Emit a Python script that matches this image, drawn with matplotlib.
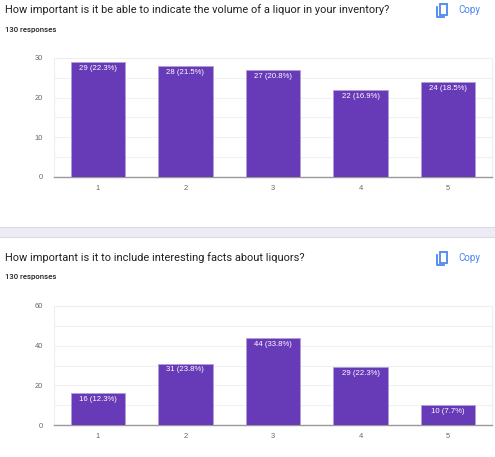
import matplotlib.pyplot as plt
from matplotlib.patches import Rectangle
from matplotlib.lines import Line2D

plt.rcParams['font.family'] = ['Roboto', 'DejaVu Sans']

# data
categories = ['1', '2', '3', '4', '5']
volume_counts = [29, 28, 27, 22, 24]
volume_pcts = [22.3, 21.5, 20.8, 16.9, 18.5]
facts_counts = [16, 31, 44, 29, 10]
facts_pcts = [12.3, 23.8, 33.8, 22.3, 7.7]
titles = ['How important is it be able to indicate the volume of a liquor in your inventory?',
          'How important is it to include interesting facts about liquors?']
responses = '130 responses'

W, H = 495, 457
fig = plt.figure(figsize=(W / 100, H / 100), dpi=100)
fig.patch.set_facecolor('white')


def fy(py):
    return 1 - py / H


def fx(px):
    return px / W


def draw_header(title, y_title, y_resp):
    fig.text(fx(5), fy(y_title), title, fontsize=7.9, color='#202124', va='center', ha='left')
    fig.text(fx(5), fy(y_resp), responses, fontsize=5.6, color='#202124', va='center', ha='left',
             fontweight='medium')
    # copy icon
    blue = '#4a86f0'
    top = y_title - 6
    fig.add_artist(Rectangle((fx(439.5), fy(top + 11)), fx(7), 11 / H, transform=fig.transFigure,
                             fill=False, ec=blue, lw=1.3))
    fig.add_artist(Line2D([fx(437), fx(437), fx(444)], [fy(top + 3), fy(top + 13), fy(top + 13)],
                          transform=fig.transFigure, color=blue, lw=1.3))
    fig.text(fx(458), fy(y_title), 'Copy', fontsize=7, color=blue, va='center', ha='left')


def draw_chart(rect, counts, pcts, ymax, major, minor):
    ax = fig.add_axes(rect)
    x = range(len(categories))
    bars = ax.bar(x, counts, width=0.62, color='#673ab7', edgecolor='#b39ddb', linewidth=0.6, zorder=3)
    for bar, c, p in zip(bars, counts, pcts):
        ax.annotate(f'{c} ({p}%)', xy=(bar.get_x() + bar.get_width() / 2, bar.get_height()),
                    xytext=(0, -2), textcoords='offset points', ha='center', va='top',
                    fontsize=5.6, color='white', family='Liberation Sans', zorder=4)
    ax.set_xlim(-0.5, len(categories) - 0.5)
    ax.set_ylim(0, ymax)
    ax.set_yticks(range(0, ymax + 1, major))
    ax.set_yticks(range(0, ymax + 1, minor), minor=True)
    ax.set_xticks(list(x))
    ax.set_xticklabels(categories)
    ax.grid(axis='y', which='both', color='#f0f0f0', lw=0.8, zorder=0)
    ax.tick_params(length=0, which='both', labelsize=5.4, colors='#666666', pad=8)
    ax.tick_params(axis='x', pad=6)
    for lbl in ax.get_xticklabels() + ax.get_yticklabels():
        lbl.set_family('Liberation Sans')
    for s in ['top', 'left', 'right']:
        ax.spines[s].set_color('#eeeeee')
        ax.spines[s].set_linewidth(0.8)
    ax.spines['bottom'].set_color('#999999')
    ax.spines['bottom'].set_linewidth(1)
    return ax


draw_header(titles[0], 10, 30)
draw_chart([fx(54), fy(177), fx(438), (177 - 58) / H], volume_counts, volume_pcts, 30, 10, 5)

# separator band
fig.add_artist(Rectangle((0, fy(237)), 1, 10 / H, transform=fig.transFigure,
                         fc='#ecebf6', ec='none'))
fig.add_artist(Line2D([0, 1], [fy(227), fy(227)], transform=fig.transFigure, color='#dadce0', lw=0.8))
fig.add_artist(Line2D([0, 1], [fy(237), fy(237)], transform=fig.transFigure, color='#dadce0', lw=0.8))

draw_header(titles[1], 258, 277)
draw_chart([fx(54), fy(425), fx(438), (425 - 306) / H], facts_counts, facts_pcts, 60, 20, 10)

plt.savefig('out.png', dpi=100)
